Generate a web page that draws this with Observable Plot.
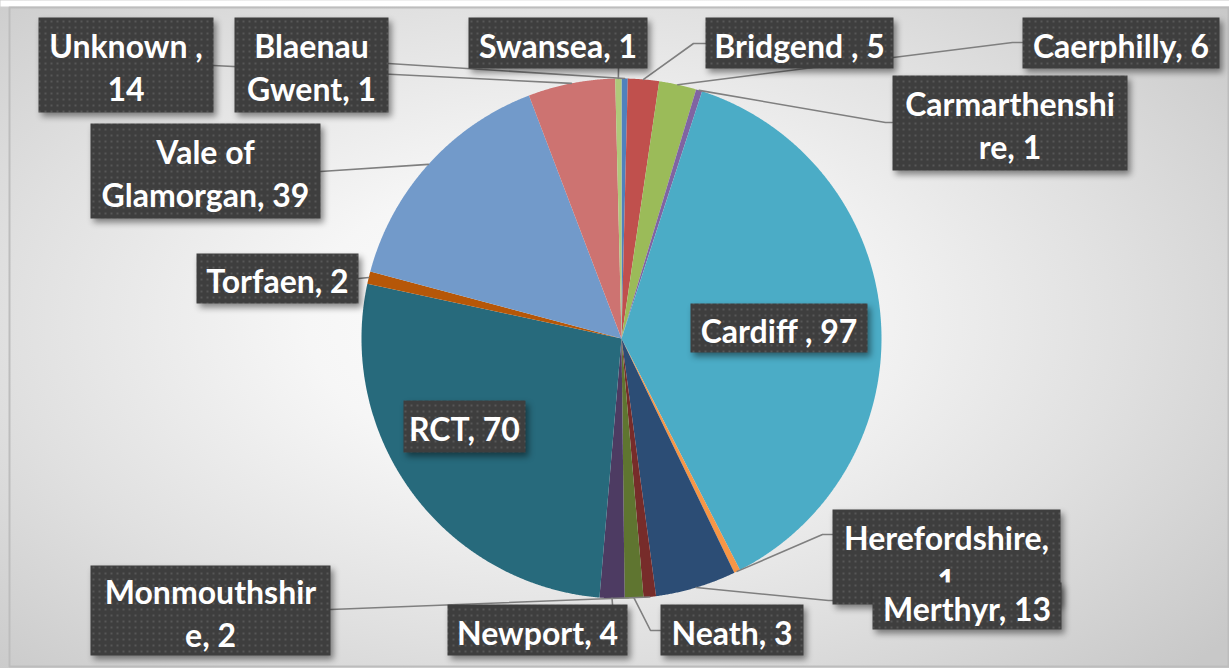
<!DOCTYPE html>
<html><head><meta charset="utf-8">
<script src="https://cdn.jsdelivr.net/npm/d3@7"></script>
<script src="https://cdn.jsdelivr.net/npm/@observablehq/plot@0.6"></script>
<style>
html,body{margin:0;padding:0;background:#fff;}
[fill="url(#dotpat)"]{filter:drop-shadow(3px 4px 3px rgba(0,0,0,0.45));}
</style></head><body><div id="chart"></div>
<script>
// ---- data ----
const areas  = ["Blaenau Gwent","Bridgend","Caerphilly","Carmarthenshire","Cardiff","Herefordshire","Merthyr","Monmouthshire","Neath","Newport","RCT","Torfaen","Vale of Glamorgan","Unknown","Swansea"];
const counts = [1,5,6,1,97,1,13,2,3,4,70,2,39,14,1];
const labels = ["Blaenau\nGwent, 1","Bridgend , 5","Caerphilly, 6","Carmarthenshi\nre, 1","Cardiff , 97","Herefordshire,\n1","Merthyr, 13","Monmouthshir\ne, 2","Neath, 3","Newport, 4","RCT, 70","Torfaen, 2","Vale of\nGlamorgan, 39","Unknown ,\n14","Swansea, 1"];
const colors = ["#4F81BD","#C0504D","#9BBB59","#8064A2","#4BACC6","#F79646","#2C4D75","#772C2A","#5F7530","#4D3B62","#276A7C","#B65708","#729ACA","#CD7371","#AFC97A"];

// ---- layout (pixel positions of label boxes and leader-line bends) ----
const boxes = [
  [234,17,388,112],[705,17,893,68],[1022,17,1219,68],[892,75,1127,170],[690,303,867,352],
  [832,509,1060,604],[872,582,1061,629],[90,565,330,655],[660,604,803,655],[447,604,627,655],
  [403,400,525,452],[196,253,358,303],[90,123,320,218],[38,17,213,112],[468,17,647,68]
];
const bends = [
  [[388,63]],[[693,43],[705,43]],[[1012,42],[1022,42]],[[885,122],[892,122]],null,
  [[822,534],[832,534]],[[828,600],[872,600]],[[330,609]],[[650,630],[660,630]],[[612,604]],
  null,[[358,278]],[[320,171]],[[213,65]],[[618,68]]
];
const cx = 621, cy = 338, r = 260;
const W = 1229, H = 668;

const arcs = d3.pie().sort(null).value(d => d)(counts);
const pt = a => [cx + r*Math.sin(a), cy - r*Math.cos(a)];

const slices = arcs.map((p,i) => {
  const ring = [[cx,cy]];
  const n = Math.max(2, Math.ceil((p.endAngle - p.startAngle)/0.004));
  for (let k=0;k<=n;k++) ring.push(pt(p.startAngle + (p.endAngle - p.startAngle)*k/n));
  ring.push([cx,cy]);
  return {type:"Feature", properties:{name:areas[i], color:colors[i]}, geometry:{type:"Polygon", coordinates:[ring]}};
});

const leaders = arcs.map((p,i) => bends[i] ? {type:"Feature", properties:{name:areas[i]},
  geometry:{type:"LineString", coordinates:[pt((p.startAngle+p.endAngle)/2), ...bends[i]]}} : null).filter(d => d);

const rectF = ([x0,y0,x1,y1]) => ({type:"Polygon", coordinates:[[[x0,y0],[x1,y0],[x1,y1],[x0,y1],[x0,y0]]]});

const labelMarks = areas.flatMap((name,i) => [
  Plot.geo([rectF(boxes[i])], {fill:"url(#dotpat)"}),
  Plot.text([i], {
    x: j => (boxes[j][0]+boxes[j][2])/2,
    y: j => (boxes[j][1]+boxes[j][3])/2 + 1,
    text: j => labels[j],
    fill: "white", fontSize: 32, fontWeight: "bold", fontFamily: "Lato, 'Open Sans', sans-serif",
    textAnchor: "middle", lineAnchor: "middle", lineHeight: 1.34
  })
]);

const svg = Plot.plot({
  width: W, height: H, margin: 0,
  projection: {type: "identity"},
  color: {type: "identity"},
  marks: [
    Plot.geo([rectF([0,0,W,6])], {fill:"white"}),
    Plot.geo([rectF([9,7,W-1,666])], {fill:"none", stroke:"#bdbdbd", strokeWidth:2}),
    Plot.geo(slices, {fill: d => d.properties.color}),
    Plot.geo(leaders, {fill:"none", stroke:"#7f7f7f", strokeWidth:1.6}),
    ...labelMarks
  ]
});
svg.style.background = "radial-gradient(ellipse 70% 75% at 46% 48%, #ffffff 0%, #f6f6f6 30%, #e0e0e0 65%, #c8c8c8 100%)";
d3.select(svg).insert("defs", ":first-child").html(
  '<pattern id="dotpat" width="6" height="6" patternUnits="userSpaceOnUse">' +
  '<rect width="6" height="6" fill="#3e3e3e"/>' +
  '<rect x="2" y="2" width="2" height="2" fill="#575757"/></pattern>');
document.getElementById("chart").appendChild(svg);
</script></body></html>
